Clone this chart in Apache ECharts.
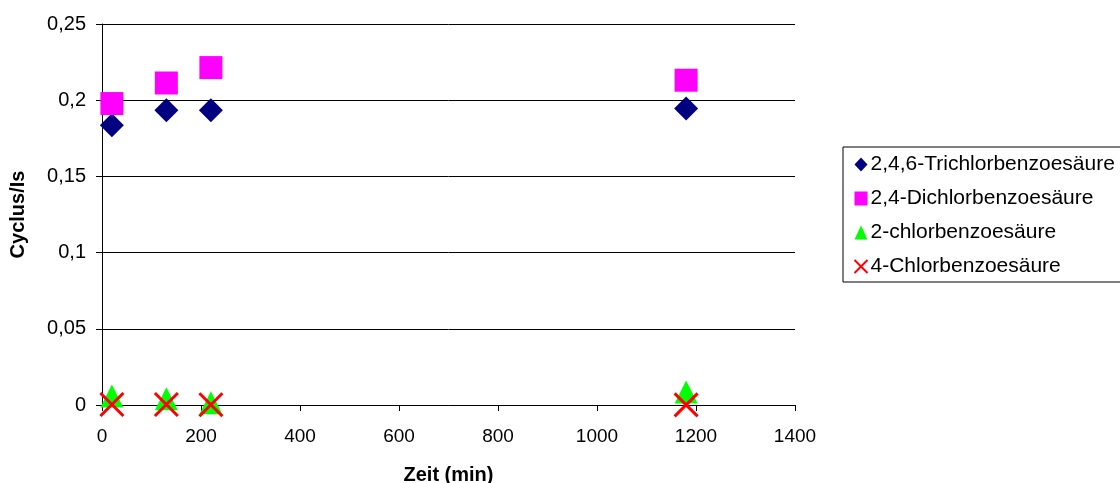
<!DOCTYPE html>
<html>
<head>
<meta charset="utf-8">
<script src="https://cdn.jsdelivr.net/npm/echarts@6/dist/echarts.min.js"></script>
<style>
  html, body { margin: 0; padding: 0; background: #fff; }
  #chart { width: 1120px; height: 483px; }
</style>
</head>
<body>
<div id="chart"></div>
<script>
// Zeitpunkte (min)
const zeit = [20, 130, 220, 1180]
// Werte Cyclus/Is
const trichlor = [0.1835, 0.1934, 0.1934, 0.1945]
const dichlor = [0.1978, 0.2113, 0.2214, 0.2131]
const chlor2 = [0.0059, 0.0041, 0.0015, 0.0085]
const chlor4 = [0.0003, 0.0003, 0.0002, 0.0001]

const seriesNames = ['2,4,6-Trichlorbenzoesäure', '2,4-Dichlorbenzoesäure', '2-chlorbenzoesäure', '4-Chlorbenzoesäure']

const crossPath = 'path://M0,0L10,10M10,0L0,10'

const pairs = (ys) => zeit.map((x, i) => [x, ys[i]])

const chart = echarts.init(document.getElementById('chart'))

const font = 'Arial, "Liberation Sans", sans-serif'

const option = {
  animation: false,
  textStyle: { fontFamily: font },
  grid: { left: 102, right: 325, top: 24, bottom: 78, containLabel: false, outerBoundsMode: 'none' },
  legend: {
    orient: 'vertical',
    left: 843,
    top: 147,
    padding: [7, 30, 5, 9],
    itemGap: 13,
    itemWidth: 13,
    itemHeight: 14,
    borderColor: '#000',
    borderWidth: 1,
    textStyle: { fontSize: 21, color: '#000', fontFamily: font, padding: [0, 0, 0, -2] },
    data: [
      { name: seriesNames[0], icon: 'diamond' },
      { name: seriesNames[1], icon: 'rect' },
      { name: seriesNames[2], icon: 'triangle' },
      { name: seriesNames[3], icon: crossPath, itemStyle: { color: 'none', borderColor: '#ff0000', borderWidth: 2 } }
    ]
  },
  xAxis: {
    type: 'value',
    min: 0,
    max: 1400,
    interval: 200,
    name: 'Zeit (min)',
    nameLocation: 'middle',
    nameGap: 60,
    nameTextStyle: { fontSize: 20, fontWeight: 'bold', color: '#000', fontFamily: font },
    axisLine: { show: true, lineStyle: { color: '#000', width: 1 } },
    axisTick: { show: true, length: 6, lineStyle: { color: '#000' } },
    axisLabel: { fontSize: 19, color: '#000', margin: 22, fontFamily: font, formatter: (v) => String(v) },
    splitLine: { show: false }
  },
  yAxis: {
    type: 'value',
    min: 0,
    max: 0.25,
    interval: 0.05,
    name: 'Cyclus/Is',
    nameLocation: 'middle',
    nameGap: 74,
    nameRotate: 90,
    nameTextStyle: { fontSize: 20, fontWeight: 'bold', color: '#000', fontFamily: font },
    axisLine: { show: true, lineStyle: { color: '#000', width: 1 } },
    axisTick: { show: true, length: 6, lineStyle: { color: '#000' } },
    axisLabel: {
      fontSize: 20,
      color: '#000',
      margin: 16,
      fontFamily: font,
      formatter: (v) => String(Math.round(v * 100) / 100).replace('.', ',')
    },
    splitLine: { show: true, lineStyle: { color: '#000', width: 1 } }
  },
  series: [
    {
      name: seriesNames[0],
      type: 'scatter',
      symbol: 'diamond',
      symbolSize: [24, 24],
      itemStyle: { color: '#000080', opacity: 1 },
      data: pairs(trichlor)
    },
    {
      name: seriesNames[1],
      type: 'scatter',
      symbol: 'rect',
      symbolSize: [23, 23],
      itemStyle: { color: '#ff00ff', opacity: 1 },
      data: pairs(dichlor)
    },
    {
      name: seriesNames[2],
      type: 'scatter',
      symbol: 'triangle',
      symbolSize: [23, 23],
      itemStyle: { color: '#00ff00', opacity: 1 },
      data: pairs(chlor2)
    },
    {
      name: seriesNames[3],
      type: 'scatter',
      symbol: crossPath,
      symbolSize: [23, 23],
      itemStyle: { color: 'none', borderColor: '#ff0000', borderWidth: 3, opacity: 1 },
      data: pairs(chlor4)
    }
  ]
}

chart.setOption(option)
</script>
</body>
</html>
